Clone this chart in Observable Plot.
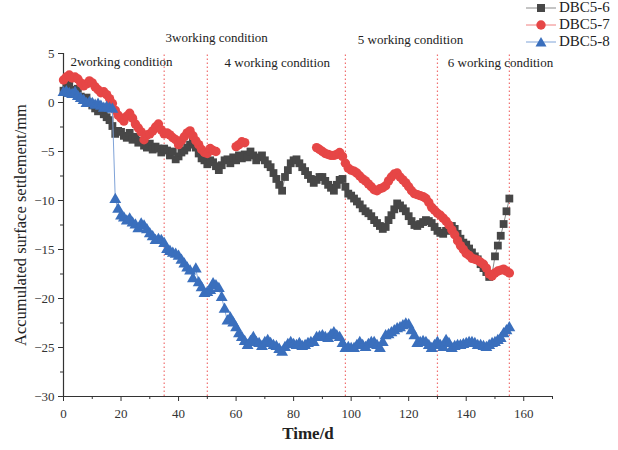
<!DOCTYPE html>
<html>
<head>
<meta charset="utf-8">
<script src="https://cdn.jsdelivr.net/npm/d3@7"></script>
<script src="https://cdn.jsdelivr.net/npm/@observablehq/plot@0.6"></script>
<style>
  html, body { margin: 0; padding: 0; background: #fff; }
  #wrap { position: relative; width: 618px; height: 450px; font-family: "Liberation Serif", "Times New Roman", serif; }
  #legend { position: absolute; left: 526px; top: -1px; font-size: 15px; color: #222; font-family: "Liberation Serif", "Times New Roman", serif; }
  #legend .row { display: flex; align-items: center; height: 17px; }
  #legend svg { margin-right: 3px; }
</style>
</head>
<body>
<div id="wrap"><div id="legend"></div></div>
<script>
// ---- data ----
const days = [0,1,2,3,4,5,6,7,8,9,10,11,12,13,14,15,16,17,18,19,20,21,22,23,24,25,26,27,28,29,30,31,32,33,34,35,36,37,38,39,40,41,42,43,44,45,46,47,48,49,50,51,52,53,54,55,56,57,58,59,60,61,62,63,64,65,66,67,68,69,70,71,72,73,74,75,76,77,78,79,80,81,82,83,84,85,86,87,88,89,90,91,92,93,94,95,96,97,98,99,100,101,102,103,104,105,106,107,108,109,110,111,112,113,114,115,116,117,118,119,120,121,122,123,124,125,126,127,128,129,130,131,132,133,134,135,136,137,138,139,140,141,142,143,144,145,146,147,148,149,150,151,152,153,154,155];

const dbc56 = [1.2,1.5,1.8,1.3,1.0,1.4,0.6,0.3,0.5,0.0,-0.3,-0.6,-0.9,-0.6,-1.2,-1.5,-1.8,-2.4,-3.2,-2.9,-3.0,-3.4,-3.6,-3.1,-3.8,-3.5,-4.1,-3.9,-4.4,-4.6,-4.2,-4.8,-4.5,-4.7,-5.1,-4.7,-4.9,-5.4,-5.0,-5.8,-5.5,-5.1,-4.9,-4.6,-4.3,-4.0,-4.6,-5.2,-5.7,-5.9,-6.3,-5.9,-6.1,-6.5,-6.9,-6.4,-5.9,-5.8,-6.2,-5.6,-5.9,-5.4,-5.7,-5.3,-5.6,-5.0,-5.4,-5.9,-5.6,-5.4,-5.9,-6.3,-6.6,-7.2,-7.8,-8.4,-9.0,-7.6,-6.9,-6.2,-5.9,-5.8,-6.2,-6.6,-7.0,-7.4,-7.8,-8.2,-7.9,-7.6,-7.6,-8.0,-8.4,-8.7,-9.0,-8.4,-7.9,-7.8,-8.6,-9.3,-9.5,-9.8,-10.1,-10.4,-10.8,-11.1,-11.3,-11.6,-12.0,-12.3,-12.6,-12.9,-12.7,-12.0,-11.5,-10.9,-10.3,-10.5,-10.8,-11.1,-11.6,-12.1,-12.5,-12.6,-12.4,-12.2,-12.0,-12.1,-12.3,-12.7,-13.1,-13.3,-13.4,-13.1,-12.8,-12.6,-12.9,-13.4,-13.9,-14.3,-14.5,-14.9,-15.3,-15.7,-16.0,-16.5,-16.9,-17.3,-17.8,-17.5,-15.7,-14.6,-13.6,-12.4,-11.1,-9.8];

const days57 = [0,1,2,3,4,5,6,7,8,9,10,11,12,13,14,15,16,17,18,19,20,21,22,23,24,25,26,27,28,29,30,31,32,33,34,35,36,37,38,39,40,41,42,43,44,45,46,47,48,49,50,51,52,53,60,61,62,63,88,89,90,91,92,93,94,95,96,97,98,99,100,101,102,103,104,105,106,107,108,109,110,111,112,113,114,115,116,117,118,119,120,121,122,123,124,125,126,127,128,129,130,131,132,133,134,135,136,137,138,139,140,141,142,143,144,145,146,147,148,149,150,151,152,153,154,155];
const dbc57 = [2.3,2.6,2.8,2.5,2.6,2.4,2.0,1.7,1.9,2.2,2.0,1.6,1.3,1.0,1.1,0.8,0.4,-0.1,-0.8,-1.3,-1.6,-1.9,-1.4,-1.1,-1.6,-2.2,-2.6,-3.0,-3.8,-3.3,-3.2,-2.9,-2.5,-2.2,-2.8,-3.2,-3.1,-3.3,-3.6,-3.8,-4.3,-3.9,-3.5,-3.1,-2.9,-3.4,-3.9,-4.3,-4.8,-5.1,-5.2,-4.7,-4.9,-5.0,-4.5,-4.3,-4.0,-4.1,-4.6,-4.8,-5.0,-5.2,-5.3,-5.4,-5.4,-5.3,-5.1,-5.5,-6.2,-6.7,-6.9,-7.0,-7.2,-7.5,-7.8,-8.0,-8.3,-8.6,-8.9,-9.0,-8.8,-8.7,-8.5,-8.0,-7.6,-7.3,-7.2,-7.6,-7.9,-8.2,-8.6,-9.0,-9.3,-9.4,-9.5,-9.6,-9.8,-10.2,-10.7,-11.0,-11.3,-11.5,-11.8,-12.1,-12.5,-13.0,-13.5,-14.1,-14.6,-15.0,-15.4,-15.6,-15.9,-16.0,-16.1,-16.3,-16.5,-16.9,-17.5,-17.7,-17.4,-17.2,-17.1,-17.0,-17.2,-17.4];

const dbc58 = [1.0,1.1,0.9,0.8,1.0,0.6,0.4,0.2,-0.1,0.0,-0.1,-0.3,-0.2,-0.4,-0.6,-0.5,-0.6,-0.7,-9.9,-10.9,-11.6,-11.8,-12.1,-11.9,-12.3,-12.5,-12.9,-12.4,-12.6,-13.0,-13.4,-13.7,-14.1,-14.0,-14.1,-14.4,-15.0,-15.2,-15.4,-15.5,-15.7,-16.1,-16.5,-16.9,-17.2,-18.0,-17.0,-18.4,-18.9,-19.5,-19.4,-19.2,-18.5,-18.7,-19.0,-19.9,-21.1,-22.3,-22.0,-22.5,-23.0,-23.6,-24.0,-24.4,-24.8,-24.4,-24.0,-24.5,-24.6,-24.9,-24.5,-24.3,-24.6,-24.8,-24.9,-25.2,-25.5,-25.0,-24.7,-24.5,-24.7,-24.8,-24.6,-24.9,-24.8,-24.6,-24.5,-24.5,-24.0,-23.9,-23.8,-24.0,-24.1,-23.7,-23.5,-23.8,-24.0,-24.6,-25.1,-25.0,-25.1,-25.1,-24.8,-24.5,-24.8,-25.0,-24.7,-24.5,-24.5,-24.8,-25.1,-24.5,-23.8,-23.7,-23.5,-23.3,-23.1,-23.0,-22.8,-22.6,-22.7,-23.3,-23.8,-24.6,-24.5,-24.4,-24.5,-24.8,-25.1,-24.8,-24.5,-24.8,-25.0,-24.3,-24.6,-25.1,-24.9,-24.8,-24.8,-24.7,-24.6,-24.5,-24.5,-24.6,-24.8,-24.8,-24.9,-25.0,-24.8,-24.6,-24.5,-24.3,-24.1,-23.6,-23.3,-23.0];

const conditionBounds = [35, 50, 98, 130, 155];
const conditionLabels = ["2working condition", "3working condition", "4 working condition", "5 working condition", "6 working condition"];
const labelDay = [2.4, 35.5, 56, 102.3, 133.6];
const labelValue = [4.2, 6.6, 4.0, 6.4, 4.0];

const seriesNames = ["DBC5-6", "DBC5-7", "DBC5-8"];
const xTicks = [0, 20, 40, 60, 80, 100, 120, 140, 160];
const xMinor = [10, 30, 50, 70, 90, 110, 130, 150, 170];
const yTicks = [5, 0, -5, -10, -15, -20, -25, -30];
const yMinor = [2.5, -2.5, -7.5, -12.5, -17.5, -22.5, -27.5];

// ---- build ----
const FONT = '"Liberation Serif", "Times New Roman", serif';
const colors = {"DBC5-6": "#474747", "DBC5-7": "#e64646", "DBC5-8": "#3a6fbd"};
const lineColors = {"DBC5-6": "#8a8a8a", "DBC5-7": "#f08080", "DBC5-8": "#7fa3d8"};
const symbols = {"DBC5-6": "square", "DBC5-7": "circle", "DBC5-8": "triangle"};
const radii = {"DBC5-6": 4.4, "DBC5-7": 4.7, "DBC5-8": 4.4};

const s56 = days.map((t, i) => ({t, v: dbc56[i], s: "DBC5-6", seg: 0}));
let seg = 0;
const s57 = days57.map((t, i) => { if (i > 0 && t - days57[i-1] > 3) seg++; return {t, v: dbc57[i], s: "DBC5-7", seg}; });
const s58 = days.map((t, i) => ({t, v: dbc58[i], s: "DBC5-8", seg: 0}));
const labels = conditionLabels.map((text, i) => ({text, t: labelDay[i], v: labelValue[i]}));

const marks = [
  Plot.ruleX(conditionBounds, {y1: -30, y2: 5, stroke: "#f07070", strokeWidth: 1.2, strokeDasharray: "1.5,2.5"}),
  Plot.ruleY([-30], {x1: 0, x2: 170, stroke: "#333", strokeWidth: 1.2}),
  Plot.ruleX([0], {y1: -30, y2: 5, stroke: "#333", strokeWidth: 1.2}),
  Plot.axisX({ticks: xTicks, tickSize: 5, tickPadding: 7, fontSize: 13, fontFamily: FONT, stroke: "#333", label: null, color: "#333"}),
  Plot.axisX({ticks: xMinor, tickSize: 3, text: null, stroke: "#333", label: null}),
  Plot.axisY({ticks: yTicks, tickSize: 5, tickPadding: 4, fontSize: 13, fontFamily: FONT, stroke: "#333", label: null, color: "#333"}),
  Plot.axisY({ticks: yMinor, tickSize: 3, text: null, stroke: "#333", label: null}),
  Plot.text(["Time/d"], {frameAnchor: "bottom", dy: 42, fontSize: 17, fontWeight: "bold", fontFamily: FONT, fill: "#222"}),
  Plot.text(["Accumulated surface settlement/mm"], {frameAnchor: "left", textAnchor: "middle", dx: -43, rotate: -90, fontSize: 16.5, fontFamily: FONT, fill: "#222"}),
  Plot.text(labels, {x: "t", y: "v", text: "text", textAnchor: "start", fontSize: 13, fontFamily: FONT, fill: "#222"})
];
for (const data of [s56, s57, s58]) {
  const name = data[0].s;
  marks.push(Plot.line(data, {x: "t", y: "v", z: "seg", stroke: lineColors[name], strokeWidth: 1}));
  marks.push(Plot.dot(data, {x: "t", y: "v", symbol: symbols[name], r: radii[name], fill: colors[name], stroke: "none"}));
}

const chart = Plot.plot({
  width: 618, height: 450,
  marginLeft: 63, marginRight: 66, marginTop: 53, marginBottom: 54,
  style: {fontFamily: FONT, background: "white", overflow: "visible"},
  x: {domain: [0, 170]},
  y: {domain: [-30, 5]},
  marks
});
document.getElementById("wrap").prepend(chart);

// legend
const legend = document.getElementById("legend");
for (const name of seriesNames) {
  const row = document.createElement("div");
  row.className = "row";
  const sym = symbols[name];
  let shape;
  if (sym === "square") shape = `<rect x="11" y="3" width="8" height="8" fill="${colors[name]}"/>`;
  else if (sym === "circle") shape = `<circle cx="15" cy="7" r="4.7" fill="${colors[name]}"/>`;
  else shape = `<path d="M15,2 L20.5,11.5 L9.5,11.5 Z" fill="${colors[name]}"/>`;
  row.innerHTML = `<svg width="30" height="14"><line x1="0" x2="30" y1="7" y2="7" stroke="${lineColors[name]}" stroke-width="1"/>${shape}</svg><span style='font-family:${FONT}'>${name}</span>`;
  legend.appendChild(row);
}
</script>
</body>
</html>
